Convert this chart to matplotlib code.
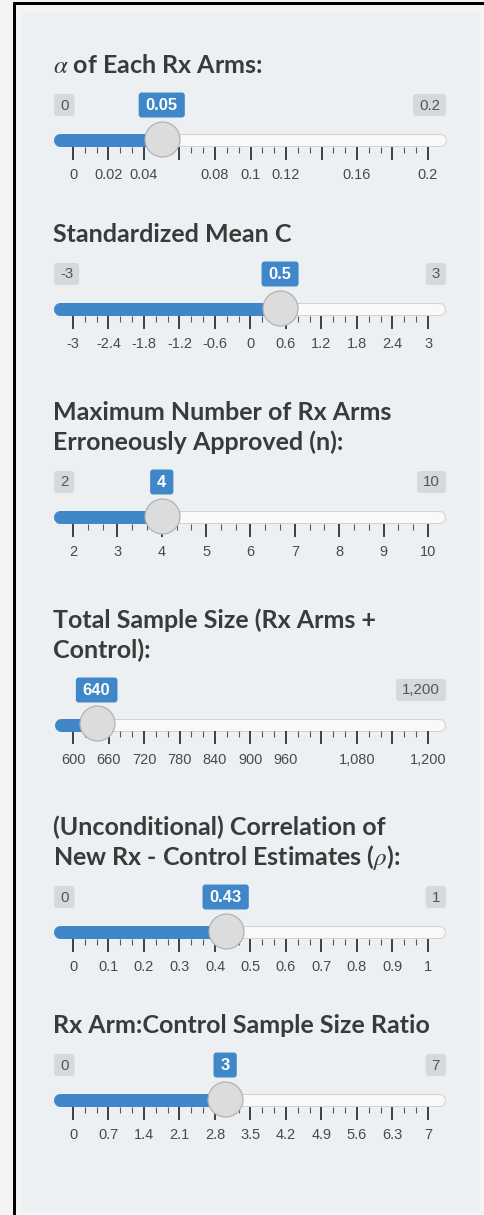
import numpy as np
import matplotlib
matplotlib.use("Agg")
import matplotlib.pyplot as plt
from matplotlib.patches import Rectangle, FancyBboxPatch

plt.rcParams['mathtext.fontset'] = 'stix'

# ---------------- data ----------------
titles = [
    ["$\\alpha$ of Each Rx Arms:"],
    ["Standardized Mean C"],
    ["Maximum Number of Rx Arms", "Erroneously Approved (n):"],
    ["Total Sample Size (Rx Arms +", "Control):"],
    ["(Unconditional) Correlation of", "New Rx - Control Estimates ($\\rho$):"],
    ["Rx Arm:Control Sample Size Ratio"],
]
slider_min = [0, -3, 2, 600, 0, 0]
slider_max = [0.2, 3, 10, 1200, 1, 7]
slider_value = [0.05, 0.5, 4, 640, 0.43, 3]
value_text = ["0.05", "0.5", "4", "640", "0.43", "3"]
min_text = ["0", "-3", "2", "600", "0", "0"]
max_text = ["0.2", "3", "10", "1,200", "1", "7"]

ticks_alpha = [0, 0.02, 0.04, 0.06, 0.08, 0.1, 0.12, 0.14, 0.16, 0.18, 0.2]
ticks_mean = [-3, -2.4, -1.8, -1.2, -0.6, 0, 0.6, 1.2, 1.8, 2.4, 3]
ticks_arms = [2, 3, 4, 5, 6, 7, 8, 9, 10]
ticks_size = [600, 660, 720, 780, 840, 900, 960, 1020, 1080, 1140, 1200]
ticks_rho = [0, 0.1, 0.2, 0.3, 0.4, 0.5, 0.6, 0.7, 0.8, 0.9, 1]
ticks_ratio = [0, 0.7, 1.4, 2.1, 2.8, 3.5, 4.2, 4.9, 5.6, 6.3, 7]
tick_values = [ticks_alpha, ticks_mean, ticks_arms, ticks_size, ticks_rho, ticks_ratio]

labels_alpha = ["0", "0.02", "0.04", "", "0.08", "0.1", "0.12", "", "0.16", "", "0.2"]
labels_mean = ["-3", "-2.4", "-1.8", "-1.2", "-0.6", "0", "0.6", "1.2", "1.8", "2.4", "3"]
labels_arms = ["2", "3", "4", "5", "6", "7", "8", "9", "10"]
labels_size = ["600", "660", "720", "780", "840", "900", "960", "", "1,080", "", "1,200"]
labels_rho = ["0", "0.1", "0.2", "0.3", "0.4", "0.5", "0.6", "0.7", "0.8", "0.9", "1"]
labels_ratio = ["0", "0.7", "1.4", "2.1", "2.8", "3.5", "4.2", "4.9", "5.6", "6.3", "7"]
tick_labels = [labels_alpha, labels_mean, labels_arms, labels_size, labels_rho, labels_ratio]

# ---------------- layout / style ----------------
W, H, DPI = 485, 1215, 100
PT = 72.0 / DPI
track_y = [140, 309, 517, 725, 932, 1100]
GX0, GX1 = 73, 428          # grid (handle centre) range in px
TX0, TX1 = 54, 446          # track extent in px
BLUE = "#3f87c9"
PANEL = "#ecf0f2"
TITLE_C = "#3a3a3a"
LABEL_Y = -35               # centre of min/max/value boxes relative to track (px, down +)

fig = plt.figure(figsize=(W / DPI, H / DPI), dpi=DPI, facecolor="#f4f4f4")
bg = fig.add_axes([0, 0, 1, 1])
bg.set_xlim(0, W)
bg.set_ylim(H, 0)
bg.axis("off")
bg.add_patch(Rectangle((22, 12), 458, 1200, fc=PANEL, ec="none"))
bg.plot([14, 14], [2, H], color="black", lw=3 * PT, solid_capstyle="butt")
bg.plot([13, W], [3, 3], color="black", lw=3 * PT, solid_capstyle="butt")

fig.canvas.draw()
renderer = fig.canvas.get_renderer()


def boxed(text_obj, pad_x, height, fc, z):
    """Draw a rounded box (in pixel units) behind a text object; return its extent."""
    bb = text_obj.get_window_extent(renderer)
    cx = (bb.x0 + bb.x1) / 2.0
    w = bb.width + 2 * pad_x
    return w, cx


for i in range(6):
    ty = track_y[i]
    vmin, vmax, val = slider_min[i], slider_max[i], slider_value[i]
    # title
    lines = titles[i]
    base = ty - 67
    for k, line in enumerate(lines):
        yb = base - 30 * (len(lines) - 1 - k)
        bg.text(53, yb, line, fontsize=25 * PT, fontweight="bold", family="Lato",
                color=TITLE_C, va="baseline", ha="left")

    ax = fig.add_axes([GX0 / W, 1 - (ty + 60) / H, (GX1 - GX0) / W, 120 / H])
    ax.set_xlim(vmin, vmax)
    ax.set_ylim(60, -60)
    ax.axis("off")
    ppx = (vmax - vmin) / (GX1 - GX0)

    xl = vmin - (GX0 - TX0 - 6.5) * ppx
    xr = vmax + (TX1 - GX1 - 6.5) * ppx
    # empty track
    ax.plot([xl, xr], [0, 0], color="#d2d2d2", lw=13 * PT, solid_capstyle="round", clip_on=False, zorder=1)
    ax.plot([xl, xr], [0, 0], color="#f9f9f9", lw=11 * PT, solid_capstyle="round", clip_on=False, zorder=2)
    # filled bar
    ax.plot([xl, val], [0, 0], color=BLUE, lw=13 * PT, solid_capstyle="round", clip_on=False, zorder=3)

    # grid ticks
    tv = tick_values[i]
    ax.vlines(tv, 6.5, 19.5, color="#1a1a1a", lw=1.6 * PT, zorder=2, clip_on=False)
    minors = []
    for a, b in zip(tv[:-1], tv[1:]):
        minors += [a + (b - a) / 3, a + 2 * (b - a) / 3]
    ax.vlines(minors, 6.5, 12.5, color="#555555", lw=1.1 * PT, zorder=2, clip_on=False)
    for v, lab in zip(tv, tick_labels[i]):
        if lab:
            ax.text(v, 35, lab, ha="center", va="center", fontsize=14.5 * PT,
                    family="Liberation Sans", color="#4a4a4a", clip_on=False)

    # handle
    ax.plot([val], [-1.5], "o", ms=35 * PT, mfc="#dcdcdc", mec="#b0b0b0", mew=1.2 * PT,
            zorder=6, clip_on=False)

    # min / max / value labels (text placed in pixel space on bg axes)
    def data_to_px(x):
        disp = ax.transData.transform((x, 0))
        return disp[0] * W / fig.bbox.width

    px_val = data_to_px(val)
    tval = bg.text(px_val, ty + LABEL_Y + 0.5, value_text[i], ha="center", va="center",
                   fontsize=16.5 * PT, family="Liberation Sans", fontweight="bold",
                   color="white", zorder=8)
    tmin = bg.text(TX0 + 6, ty + LABEL_Y + 0.5, min_text[i], ha="left", va="center",
                   fontsize=15 * PT, family="Liberation Sans", color="#555555", zorder=8)
    tmax = bg.text(TX1 - 6, ty + LABEL_Y + 0.5, max_text[i], ha="right", va="center",
                   fontsize=15 * PT, family="Liberation Sans", color="#555555", zorder=8)
    fig.canvas.draw()
    specs = []
    for t, padx, hgt, fc in ((tval, 7, 25, BLUE), (tmin, 6, 22, "#d6d9dc"), (tmax, 6, 22, "#d6d9dc")):
        bb = t.get_window_extent(renderer)
        x0 = bb.x0 * W / fig.bbox.width - padx
        x1 = bb.x1 * W / fig.bbox.width + padx
        specs.append((t, x0, x1, hgt, fc))
    vx0, vx1 = specs[0][1], specs[0][2]
    for t, x0, x1, hgt, fc in specs:
        if t is not tval and (x1 > vx0 - 2 and x0 < vx1 + 2):
            t.set_visible(False)
            continue
        bg.add_patch(FancyBboxPatch((x0 + 3, ty + LABEL_Y - hgt / 2 + 3), (x1 - x0) - 6, hgt - 6,
                                    boxstyle="round,pad=3", fc=fc, ec="none", zorder=7))

fig.savefig("out.png", dpi=DPI, facecolor=fig.get_facecolor())
